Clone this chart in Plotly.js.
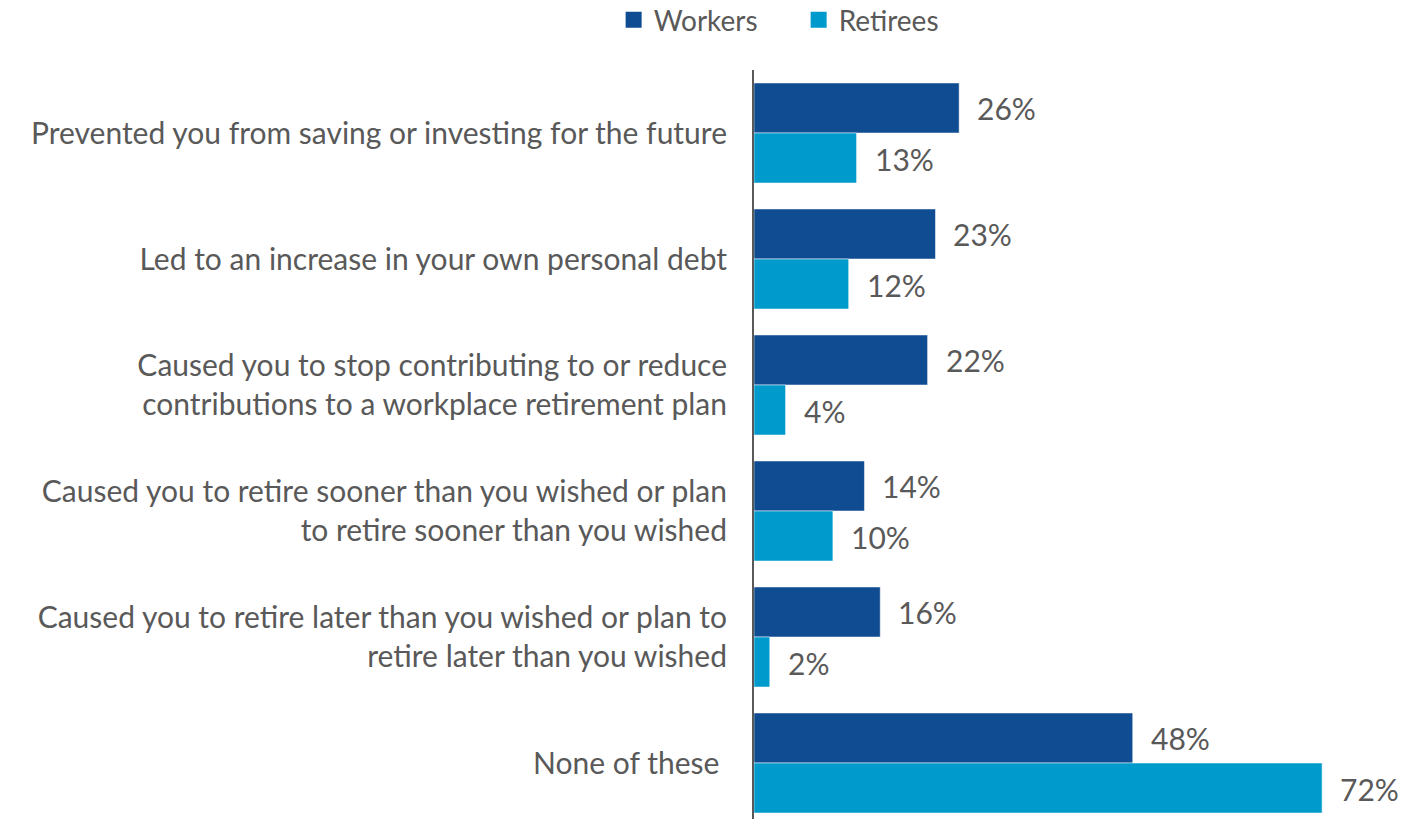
<!DOCTYPE html>
<html><head><meta charset="utf-8">
<script src="https://cdn.plot.ly/plotly-3.0.1.min.js"></script>
<style>html,body{margin:0;padding:0;overflow:hidden;background:#fff}</style>
</head><body><div id="chart" style="width:1401px;height:826px"></div>
<script>
const categories = [
  "Prevented you from saving or investing for the future",
  "Led to an increase in your own personal debt",
  "Caused you to stop contributing to or reduce<br>contributions to a workplace retirement plan",
  "Caused you to retire sooner than you wished or plan<br>to retire sooner than you wished",
  "Caused you to retire later than you wished or plan to<br>retire later than you wished",
  "None of these\u00a0"
];
const workers = [26, 23, 22, 14, 16, 48];
const retirees = [13, 12, 4, 10, 2, 72];
const seriesNames = ["Workers", "Retirees"];
const colors = ["#0F4C92", "#009ACD"];
const FONT = "Lato, 'Liberation Sans', sans-serif";
const GRAY = "#595959";

const traces = [workers, retirees].map((vals, i) => ({
  type: "bar", orientation: "h", name: seriesNames[i],
  x: vals, y: categories, showlegend: false,
  marker: {color: colors[i], line: {color: "#ffffff", width: 0.5}},
  hoverinfo: "skip"
}));
// legend-only entries with larger square swatches
seriesNames.forEach((n, i) => traces.push({
  type: "scatter", mode: "markers", name: n, x: [null], y: [null],
  marker: {symbol: "square", size: 16, color: colors[i]}, hoverinfo: "skip"
}));

const annotations = [];
[workers, retirees].forEach((vals, i) => {
  vals.forEach((v, j) => {
    annotations.push({
      x: v, y: categories[j], xref: "x", yref: "y",
      text: v + "%", showarrow: false, xanchor: "left",
      xshift: 16, yshift: i === 0 ? 25 : -26,
      font: {family: FONT, size: 30, color: GRAY}
    });
  });
});

const layout = {
  width: 1401, height: 826,
  margin: {l: 754, r: 0, t: 70, b: 0, pad: 0, autoexpand: false},
  barmode: "group", bargap: 0.206, bargroupgap: 0,
  font: {family: FONT, size: 30, color: GRAY},
  paper_bgcolor: "#ffffff", plot_bgcolor: "#ffffff",
  xaxis: {range: [0, 82], visible: false, fixedrange: true},
  yaxis: {autorange: "reversed", showline: true, linecolor: GRAY, linewidth: 2,
          ticks: "", showgrid: false, zeroline: false, ticklabelstandoff: 19,
          tickfont: {family: FONT, size: 30, color: GRAY}},
  showlegend: true,
  legend: {orientation: "h", xref: "container", yref: "paper", x: 0.438, xanchor: "left",
           y: 1.099, yanchor: "top", font: {family: FONT, size: 28, color: GRAY}, traceorder: "normal",
           entrywidth: 140, entrywidthmode: "pixels", itemsizing: "trace"},
  annotations: annotations
};
Plotly.newPlot("chart", traces, layout, {displayModeBar: false, staticPlot: true});
</script></body></html>
